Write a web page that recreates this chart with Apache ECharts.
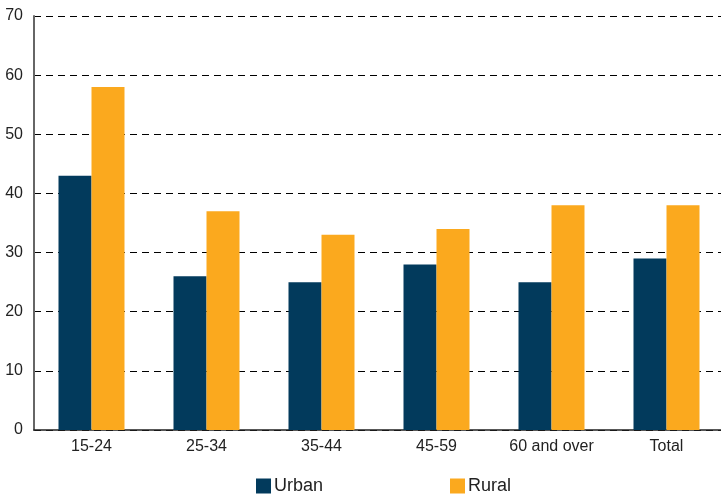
<!DOCTYPE html>
<html>
<head>
<meta charset="utf-8">
<script src="https://cdn.jsdelivr.net/npm/echarts@6/dist/echarts.min.js"></script>
<style>html,body{margin:0;padding:0;background:#fff}#c{width:721px;height:497px}</style>
</head>
<body>
<div id="c"></div>
<script>
var categories = ['15-24', '25-34', '35-44', '45-59', '60 and over', 'Total'];
var urban = [43, 26, 25, 28, 25, 29];
var rural = [58, 37, 33, 34, 38, 38];
var yTicks = [0, 10, 20, 30, 40, 50, 60, 70];

var chart = echarts.init(document.getElementById('c'));
chart.setOption({
  animation: false,
  textStyle: { fontFamily: 'Liberation Sans, Arial, sans-serif' },
  grid: { left: 34, right: -3, top: 16, bottom: 67, containLabel: false, outerBoundsMode: 'none' },
  legend: {
    top: 472, left: 251,
    itemWidth: 15, itemHeight: 15, itemGap: 127,
    icon: 'rect',
    textStyle: { fontSize: 18, color: '#222', padding: [0, 0, 0, -2] },
    data: ['Urban', 'Rural']
  },
  xAxis: {
    type: 'category',
    data: categories,
    axisTick: { show: false },
    axisLine: { lineStyle: { color: '#222', width: 1.5 } },
    axisLabel: { fontSize: 16, color: '#222', margin: 9 }
  },
  yAxis: {
    type: 'value',
    min: yTicks[0], max: yTicks[yTicks.length - 1], interval: 10,
    axisLine: { show: true, lineStyle: { color: '#666', width: 2 } },
    axisTick: { show: false },
    axisLabel: { fontSize: 16, color: '#222', margin: 11 },
    splitLine: { lineStyle: { color: '#000', type: [7, 5], width: 1 } }
  },
  series: [
    { name: 'Urban', type: 'bar', data: urban, barWidth: 33, barGap: '0%',
      itemStyle: { color: '#023a5c' } },
    { name: 'Rural', type: 'bar', data: rural, barWidth: 33, barGap: '0%',
      itemStyle: { color: '#fba91e' } }
  ]
});
</script>
</body>
</html>
